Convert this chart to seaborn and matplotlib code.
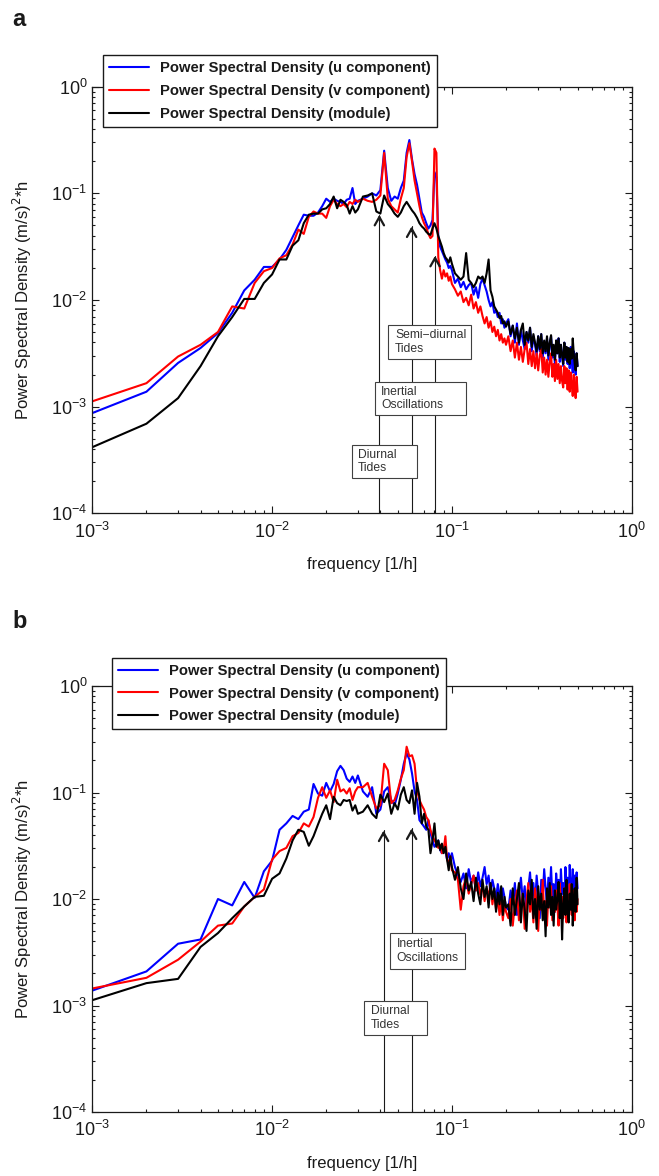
import numpy as np
import pandas as pd
import seaborn as sns
import matplotlib.pyplot as plt
from matplotlib.patches import Rectangle

# frequency bins, k / 1000 1/h (dense at low f, thinned in the tail)
k_bins = np.concatenate([np.arange(1, 31), np.arange(32, 101, 2),
                         np.arange(104, 201, 4), np.arange(206, 501, 6)])
freq = k_bins * 0.001

series_names = ['Power Spectral Density (u component)',
                'Power Spectral Density (v component)',
                'Power Spectral Density (module)']
series_colors = ['#0000ff', '#ff0000', '#000000']

# log10 of PSD
a_u = [-3.06, -2.86, -2.59, -2.45, -2.31, -2.12, -1.91, -1.81, -1.69, -1.69,
       -1.62, -1.53, -1.41, -1.30, -1.20, -1.21, -1.21, -1.18, -1.12, -1.05,
       -1.08, -1.05, -1.07, -1.08, -1.10, -1.06, -1.05, -0.95, -1.10, -1.07,
       -1.05, -1.03, -1.00, -1.02, -0.97, -0.60, -0.95, -1.07, -1.03, -1.05,
       -0.95, -0.88, -0.62, -0.50, -0.68, -0.82, -0.92, -1.05, -1.18, -1.22,
       -1.28, -1.33, -1.30, -1.25, -0.80, -0.85, -1.40, -1.50, -1.54, -1.58,
       -1.62, -1.65, -1.70, -1.68, -1.72,
       -1.84, -1.80, -1.88, -1.83, -1.90, -1.86, -1.84, -1.95, -1.88, -1.98,
       -1.85, -1.80, -1.86, -1.92, -2.00, -2.06, -2.02, -2.12, -2.10, -2.16,
       -2.12, -2.22, -2.18, -2.26, -2.22,
       -2.18, -2.34, -2.24, -2.40, -2.22, -2.42, -2.28, -2.38, -2.46, -2.30,
       -2.40, -2.26, -2.48, -2.34, -2.42, -2.52, -2.34, -2.48, -2.32, -2.54,
       -2.40, -2.50, -2.36, -2.56, -2.42, -2.34, -2.54, -2.44, -2.60, -2.38,
       -2.50, -2.36, -2.58, -2.42, -2.52, -2.62, -2.40, -2.56, -2.44, -2.60,
       -2.46, -2.64, -2.44, -2.58, -2.68, -2.48, -2.60, -2.70, -2.50, -2.62]
a_v = [-2.95, -2.78, -2.53, -2.42, -2.30, -2.06, -2.08, -1.84, -1.73, -1.70,
       -1.61, -1.58, -1.48, -1.34, -1.38, -1.22, -1.17, -1.19, -1.19, -1.23,
       -1.12, -1.06, -1.10, -1.12, -1.10, -1.13, -1.08, -1.10, -1.06, -1.08,
       -1.05, -1.07, -1.08, -1.06, -1.02, -0.62, -1.05, -1.12, -1.15, -1.18,
       -1.05, -0.95, -0.66, -0.53, -0.70, -0.88, -1.00, -1.12, -1.22, -1.28,
       -1.32, -1.38, -1.42, -1.40, -0.58, -0.62, -1.60, -1.72, -1.80, -1.72,
       -1.78, -1.75, -1.82, -1.78, -1.85,
       -1.90, -1.96, -1.92, -2.02, -1.98, -2.05, -1.95, -2.08, -2.02, -2.12,
       -2.06, -2.15, -2.22, -2.16, -2.26, -2.20, -2.30, -2.25, -2.34, -2.28,
       -2.38, -2.32, -2.40, -2.36, -2.42,
       -2.34, -2.48, -2.38, -2.54, -2.40, -2.56, -2.44, -2.58, -2.46, -2.40,
       -2.60, -2.46, -2.62, -2.48, -2.64, -2.50, -2.66, -2.52, -2.46, -2.68,
       -2.54, -2.70, -2.56, -2.72, -2.58, -2.50, -2.72, -2.60, -2.76, -2.56,
       -2.74, -2.60, -2.78, -2.62, -2.76, -2.82, -2.62, -2.78, -2.64, -2.84,
       -2.66, -2.86, -2.68, -2.80, -2.90, -2.70, -2.84, -2.92, -2.72, -2.86]
a_mod = [-3.38, -3.16, -2.92, -2.62, -2.34, -2.16, -1.99, -1.99, -1.84, -1.76,
         -1.62, -1.62, -1.49, -1.44, -1.28, -1.20, -1.19, -1.19, -1.15, -1.14,
         -1.10, -1.03, -1.14, -1.06, -1.08, -1.11, -1.19, -1.12, -1.18, -1.15,
         -1.03, -1.02, -1.00, -1.17, -1.19, -1.02, -1.10, -1.14, -1.19, -1.22,
         -1.18, -1.12, -1.08, -1.12, -1.16, -1.19, -1.23, -1.28, -1.31, -1.33,
         -1.36, -1.38, -1.39, -1.33, -1.28, -1.33, -1.40, -1.45, -1.50, -1.56,
         -1.60, -1.62, -1.65, -1.60, -1.66,
         -1.75, -1.78, -1.81, -1.78, -1.56, -1.81, -1.84, -1.88, -1.84, -1.78,
         -1.80, -1.78, -1.84, -1.75, -1.62, -1.91, -1.97, -2.06, -2.09, -2.12,
         -2.17, -2.15, -2.22, -2.20, -2.25,
         -2.20, -2.32, -2.24, -2.36, -2.26, -2.40, -2.28, -2.22, -2.42, -2.30,
         -2.38, -2.26, -2.44, -2.32, -2.40, -2.48, -2.34, -2.46, -2.32, -2.50,
         -2.38, -2.48, -2.34, -2.52, -2.40, -2.33, -2.52, -2.42, -2.56, -2.38,
         -2.50, -2.36, -2.54, -2.42, -2.52, -2.60, -2.40, -2.54, -2.44, -2.58,
         -2.45, -2.60, -2.46, -2.55, -2.36, -2.50, -2.60, -2.66, -2.50, -2.62]

# log10 of PSD
b_u = [-2.86, -2.68, -2.42, -2.38, -2.00, -2.06, -1.84, -1.99, -1.74, -1.64,
       -1.35, -1.29, -1.22, -1.25, -1.18, -1.16, -0.92, -1.01, -1.03, -0.91,
       -0.99, -0.92, -0.80, -0.75, -0.79, -0.87, -0.90, -0.85, -0.91, -0.84,
       -0.99, -1.04, -0.95, -1.20, -1.16, -0.99, -0.95, -1.07, -1.12, -1.01,
       -0.88, -0.73, -0.63, -0.69, -0.82, -0.99, -1.07, -1.26, -1.29, -1.32,
       -1.35, -1.26, -1.38, -1.45, -1.51, -1.48, -1.45, -1.54, -1.57, -1.51,
       -1.54, -1.63, -1.57, -1.63, -1.57,
       -1.70, -1.78, -1.84, -1.76, -1.90, -1.72, -1.85, -1.78, -1.92, -1.75,
       -1.88, -1.80, -1.70, -1.86, -1.78, -1.95, -1.82, -1.90, -2.00, -1.86,
       -1.96, -2.05, -1.90, -1.98, -2.08,
       -2.10, -1.92, -2.05, -1.85, -2.15, -1.95, -1.80, -2.02, -1.88, -2.12,
       -1.90, -1.75, -2.00, -1.85, -2.08, -1.78, -1.95, -2.18, -1.82, -1.98,
       -1.72, -1.90, -2.05, -1.80, -1.95, -1.70, -2.00, -1.86, -2.12, -1.76,
       -1.92, -1.82, -2.05, -1.72, -1.95, -1.85, -2.10, -1.70, -1.90, -1.80,
       -2.02, -1.68, -1.88, -1.98, -1.72, -1.92, -1.78, -2.05, -1.75, -1.90]
b_v = [-2.84, -2.74, -2.57, -2.40, -2.25, -2.23, -2.07, -1.98, -1.91, -1.63,
       -1.55, -1.52, -1.41, -1.38, -1.29, -1.32, -1.23, -1.05, -0.95, -1.05,
       -0.98, -1.09, -0.88, -0.99, -0.97, -1.01, -0.96, -1.07, -0.99, -0.95,
       -0.95, -0.91, -1.04, -1.15, -1.12, -0.73, -0.79, -1.10, -1.07, -0.98,
       -0.87, -0.79, -0.57, -0.66, -0.65, -0.73, -0.98, -1.07, -1.12, -1.16,
       -1.23, -1.26, -1.35, -1.41, -1.45, -1.48, -1.52, -1.49, -1.57, -1.54,
       -1.41, -1.63, -1.67, -1.60, -1.73,
       -1.75, -1.82, -2.10, -1.88, -1.80, -1.95, -1.86, -1.78, -1.92, -1.85,
       -1.96, -1.88, -2.02, -1.90, -1.98, -1.86, -2.05, -1.94, -2.10, -1.98,
       -2.15, -2.02, -2.20, -2.05, -2.12,
       -2.18, -2.00, -2.25, -2.05, -1.92, -2.20, -2.08, -1.95, -2.28, -2.02,
       -1.85, -2.12, -2.00, -2.22, -1.90, -2.05, -2.30, -1.98, -2.10, -1.82,
       -2.15, -2.02, -2.25, -1.95, -2.08, -1.88, -2.20, -2.00, -2.12, -1.92,
       -2.05, -2.25, -1.85, -2.10, -1.98, -2.18, -1.90, -2.05, -2.22, -1.95,
       -2.10, -1.86, -2.02, -2.15, -1.92, -2.08, -2.20, -1.96, -2.12, -2.00]
b_mod = [-2.95, -2.79, -2.75, -2.45, -2.32, -2.18, -2.07, -1.98, -1.97, -1.81,
         -1.76, -1.62, -1.45, -1.35, -1.37, -1.50, -1.41, -1.30, -1.20, -1.12,
         -1.25, -1.04, -1.10, -1.12, -1.07, -1.08, -1.07, -1.17, -1.12, -1.20,
         -1.18, -1.12, -1.20, -1.24, -1.02, -1.09, -1.01, -1.20, -1.10, -1.16,
         -1.02, -0.95, -1.07, -1.10, -0.98, -1.20, -0.91, -1.04, -1.29, -1.20,
         -1.32, -1.35, -1.57, -1.45, -1.29, -1.51, -1.45, -1.54, -1.48, -1.57,
         -1.51, -1.63, -1.73, -1.60, -1.70,
         -1.82, -1.70, -1.90, -2.00, -1.76, -1.92, -1.84, -2.02, -1.80, -1.95,
         -2.05, -1.82, -1.98, -1.88, -2.08, -1.85, -2.00, -1.90, -2.12, -1.94,
         -2.05, -1.88, -2.15, -1.98, -2.08,
         -2.05, -2.25, -1.90, -2.15, -2.00, -1.85, -2.22, -1.95, -2.10, -2.30,
         -1.92, -2.05, -1.82, -2.18, -2.00, -2.28, -1.88, -2.10, -1.95, -2.20,
         -2.02, -2.35, -1.90, -2.08, -1.85, -2.15, -1.98, -2.25, -1.92, -2.10,
         -2.00, -1.84, -2.18, -1.95, -2.38, -2.05, -1.90, -2.15, -1.82, -2.08,
         -2.22, -1.95, -2.10, -1.86, -2.25, -2.00, -1.90, -2.12, -1.80, -2.05]

# marks: line frequency, arrow tip, label, box (f0, f1, y0, y1), text anchor
marks_a = [(0.0395, 0.063, 'Diurnal\nTides',
            (0.0278, 0.0638, 2.15e-4, 4.38e-4), (0.0301, 3.07e-4)),
           (0.0597, 0.049, 'Inertial\nOscillations',
            (0.0373, 0.1200, 8.4e-4, 1.7e-3), (0.0403, 1.2e-3)),
           (0.0806, 0.026, 'Semi\u2212diurnal\nTides',
            (0.0441, 0.1275, 2.8e-3, 5.85e-3), (0.0483, 4.05e-3))]
marks_b = [(0.0417, 0.044, 'Diurnal\nTides',
            (0.0324, 0.0729, 5.28e-4, 1.11e-3), (0.0353, 7.64e-4)),
           (0.0597, 0.046, 'Inertial\nOscillations',
            (0.0455, 0.1186, 2.2e-3, 4.8e-3), (0.0493, 3.25e-3))]


def long_frame(u, v, m):
    parts = []
    for name, vals in zip(series_names, [u, v, m]):
        parts.append(pd.DataFrame({'freq': freq, 'psd': 10 ** np.array(vals),
                                   'series': name}))
    return pd.concat(parts, ignore_index=True)


def draw_panel(ax, df, marks, leg_anchor):
    sns.lineplot(data=df, x='freq', y='psd', hue='series', hue_order=series_names,
                 palette=series_colors, estimator=None, sort=False,
                 linewidth=1.5, legend=False, ax=ax)
    ax.set_xscale('log')
    ax.set_yscale('log')
    ax.set_xlim(1e-3, 1)
    ax.set_ylim(1e-4, 1)
    ax.set_xlabel('frequency [1/h]', fontsize=12)
    ax.set_ylabel(r'Power Spectral Density (m/s)$^2$*h', fontsize=12)
    ax.tick_params(which='both', direction='in', top=True, right=True,
                   color='k', width=0.8)
    ax.tick_params(which='major', length=5, labelsize=13)
    ax.tick_params(axis='x', which='major', pad=6)
    ax.tick_params(which='minor', length=2.5)
    for s in ax.spines.values():
        s.set_linewidth(0.9)
        s.set_color('k')

    for f, tip, label, box, txt in marks:
        # thin leader line from the axis up to the arrow head
        ax.plot([f, f], [1e-4, tip], color='k', lw=0.8, zorder=3)
        ax.annotate('', xy=(f, tip), xytext=(f, tip * 0.9),
                    arrowprops=dict(arrowstyle='->,head_length=0.5,head_width=0.28',
                                    lw=1.6, color='k', shrinkA=0, shrinkB=0),
                    zorder=3)
        f0, f1, y0, y1 = box
        ax.add_patch(Rectangle((f0, y0), f1 - f0, y1 - y0, fc='white',
                               ec='0.25', lw=0.8, zorder=5))
        ax.text(txt[0], txt[1], label, fontsize=8.7, color='0.2', ha='left',
                va='center', linespacing=1.15, zorder=6)

    leg = ax.legend(ax.get_lines()[:3], series_names, loc='upper left',
                    bbox_to_anchor=leg_anchor, borderaxespad=0,
                    prop={'weight': 'bold', 'size': 10.6}, frameon=True,
                    fancybox=False, edgecolor='k', framealpha=1,
                    handlelength=2.7, labelspacing=0.6)
    leg.get_frame().set_linewidth(1.0)
    leg.set_zorder(10)


sns.set_theme(style='ticks')
plt.rcParams['font.family'] = ['Liberation Sans', 'DejaVu Sans']
plt.rcParams['axes.edgecolor'] = 'k'
plt.rcParams['text.color'] = 'k'
plt.rcParams['axes.labelcolor'] = 'k'
plt.rcParams['xtick.color'] = 'k'
plt.rcParams['ytick.color'] = 'k'

fig = plt.figure(figsize=(6.59, 11.76), dpi=100)
ax_a = fig.add_axes([92.3 / 659, 1 - 513.3 / 1176, 539.4 / 659, 426.6 / 1176])
ax_b = fig.add_axes([92.3 / 659, 1 - 1112 / 1176, 539.4 / 659, 426 / 1176])

draw_panel(ax_a, long_frame(a_u, a_v, a_mod), marks_a, (0.0198, 1.074))
draw_panel(ax_b, long_frame(b_u, b_v, b_mod), marks_b, (0.0365, 1.066))

for ax in (ax_a, ax_b):
    ax.yaxis.set_label_coords(-0.108, 0.5)
    ax.xaxis.set_label_coords(0.5, -0.103)

fig.text(12 / 659, 1 - 20 / 1176, 'a', fontsize=17, fontweight='bold', va='center')
fig.text(12 / 659, 1 - 622 / 1176, 'b', fontsize=17, fontweight='bold', va='center')

fig.savefig('out.png', dpi=100)
